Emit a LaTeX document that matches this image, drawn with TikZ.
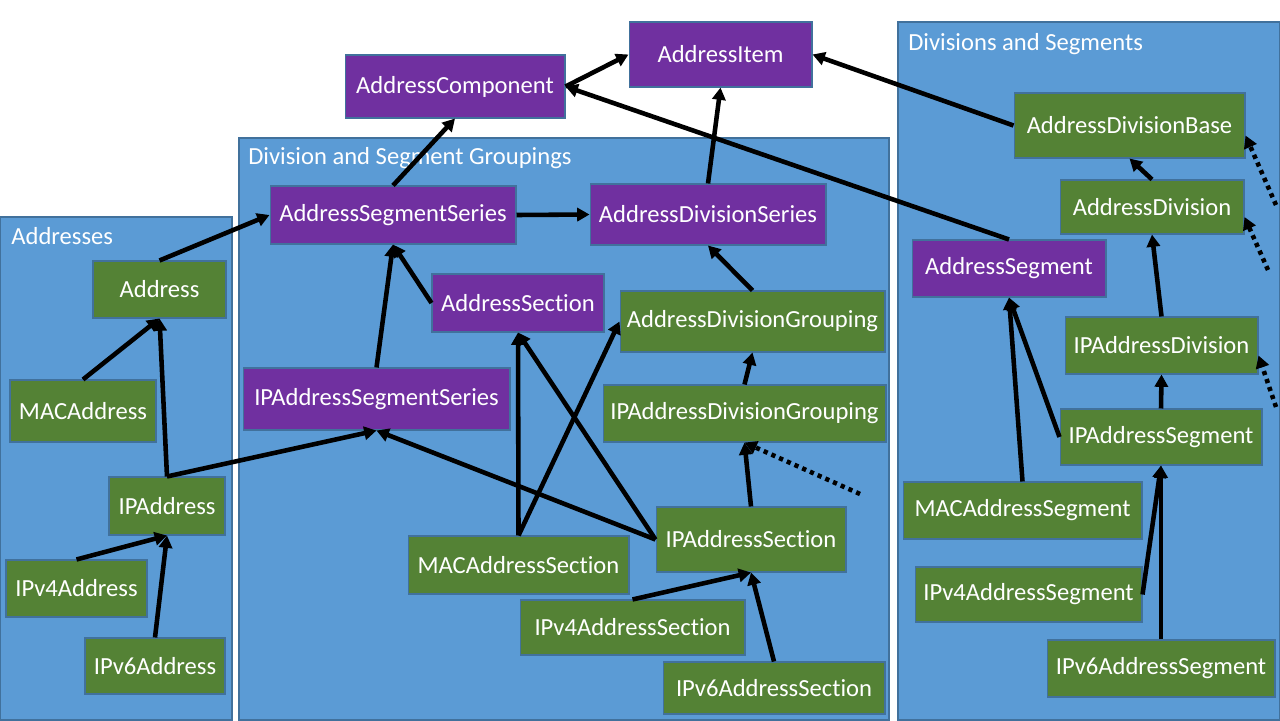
\documentclass[tikz,border=0pt]{standalone}
\usepackage{fontspec}
\setmainfont{Carlito}[Ligatures=CommonOff]
\usetikzlibrary{arrows.meta}

\definecolor{grpblue}{HTML}{5B9BD5}
\definecolor{edgeblue}{HTML}{41719C}
\definecolor{clsgreen}{HTML}{548235}
\definecolor{clspurple}{HTML}{7030A0}

\tikzset{
	grp/.style={fill=grpblue, draw=edgeblue, line width=0.6pt},
	grptitle/.style={text=white, anchor=base west, inner sep=0pt, font=\fontsize{14}{16}\selectfont},
	cls/.style={draw=edgeblue, line width=0.6pt, text=white, inner sep=0pt, font=\fontsize{14}{16}\selectfont},
	iface/.style={cls, fill=clspurple},
	impl/.style={cls, fill=clsgreen},
	inh/.style={line width=2.6pt, -{Triangle[length=7pt,width=7.5pt]}},
	ext/.style={inh, dash pattern=on 2.4pt off 2.4pt},
}

\begin{document}
\begin{tikzpicture}[x=0.02cm, y=-0.02cm]
		\useasboundingbox (0,0) rectangle (1280,720);
		%% The three groups
		\draw[grp] (0,217) rectangle (232,720);     % addresses
		\draw[grp] (239,138) rectangle (889,720);   % groupings
		\draw[grp] (898,22) rectangle (1280,720);   % divisions
		\node[grptitle] (t_addr) at (11,244) {Addresses};
		\node[grptitle] (t_grp) at (248,164) {Division and Segment Groupings};
		\node[grptitle] (t_div) at (908,50) {Divisions and Segments};
		%% Top level
		\node[iface, minimum width=3.66cm, minimum height=1.30cm] (item) at (720.5,54.5) {AddressItem};
		\node[iface, minimum width=4.40cm, minimum height=1.26cm] (comp) at (455,86.5) {AddressComponent};
		%% Addresses
		\node[impl, minimum width=2.66cm, minimum height=1.14cm] (addr) at (159.5,289.5) {Address};
		\node[impl, minimum width=2.92cm, minimum height=1.24cm] (macaddr) at (83,411) {MACAddress};
		\node[impl, minimum width=2.32cm, minimum height=1.16cm] (ipaddr) at (167,506) {IPAddress};
		\node[impl, minimum width=2.82cm, minimum height=1.14cm] (ipfouraddr) at (76.5,588.5) {IPv4Address};
		\node[impl, minimum width=2.80cm, minimum height=1.12cm] (ipsixaddr) at (155,666) {IPv6Address};
		%% Groupings
		\node[iface, minimum width=4.92cm, minimum height=1.16cm] (segser) at (393,215) {AddressSegmentSeries};
		\node[iface, minimum width=4.72cm, minimum height=1.22cm] (divser) at (708,214.5) {AddressDivisionSeries};
		\node[iface, minimum width=3.44cm, minimum height=1.16cm] (sect) at (518,303) {AddressSection};
		\node[impl, minimum width=5.30cm, minimum height=1.22cm] (divgrp) at (752.5,321.5) {AddressDivisionGrouping};
		\node[iface, minimum width=5.34cm, minimum height=1.24cm] (ipsegser) at (376.5,399) {IPAddressSegmentSeries};
		\node[impl, minimum width=5.66cm, minimum height=1.14cm] (ipdivgrp) at (744.5,413.5) {IPAddressDivisionGrouping};
		\node[impl, minimum width=3.80cm, minimum height=1.30cm] (ipsect) at (751,539.5) {IPAddressSection};
		\node[impl, minimum width=4.42cm, minimum height=1.16cm] (macsect) at (518.5,565) {MACAddressSection};
		\node[impl, minimum width=4.50cm, minimum height=1.10cm] (ipfoursect) at (632.5,627.5) {IPv4AddressSection};
		\node[impl, minimum width=4.44cm, minimum height=1.04cm] (ipsixsect) at (774,688) {IPv6AddressSection};
		%% Divisions and segments
		\node[impl, minimum width=4.62cm, minimum height=1.30cm] (divbase) at (1129.5,125.5) {AddressDivisionBase};
		\node[impl, minimum width=3.68cm, minimum height=1.08cm] (div) at (1152,207) {AddressDivision};
		\node[iface, minimum width=3.88cm, minimum height=1.14cm] (seg) at (1009,268.5) {AddressSegment};
		\node[impl, minimum width=3.86cm, minimum height=1.14cm] (ipdiv) at (1161.5,345.5) {IPAddressDivision};
		\node[impl, minimum width=4.04cm, minimum height=1.12cm] (ipseg) at (1161,437) {IPAddressSegment};
		\node[impl, minimum width=4.78cm, minimum height=1.14cm] (macseg) at (1022.5,510.5) {MACAddressSegment};
		\node[impl, minimum width=4.54cm, minimum height=1.10cm] (ipfourseg) at (1028.5,594.5) {IPv4AddressSegment};
		\node[impl, minimum width=4.56cm, minimum height=1.14cm] (ipsixseg) at (1161,668.5) {IPv6AddressSegment};
		%% Free ends of the dotted arrows
		\path
			(860,494)  coordinate (more_grp)
			(1276,205) coordinate (more_base)
			(1268,270) coordinate (more_div)
			(1276,407) coordinate (more_ipdiv);
		%% Inheritance
		\draw[inh] (comp.east) -- (item.west);
		\draw[inh] (divser.north) -- (item.south);
		\draw[inh] (divbase.west) -- (item.east);
		\draw[inh] (seg.north) -- (comp.east);
		\draw[inh] (segser.north) -- (comp.south);
		\draw[inh] (addr.north) -- (segser.west);
		\draw[inh] (segser.east) -- (divser.west);
		\draw[inh] (sect.west) -- (segser.south);
		\draw[inh] (ipsegser.north) -- (segser.south);
		\draw[inh] (divgrp.north) -- (divser.south);
		\draw[inh] (ipdivgrp.north) -- (divgrp.south);
		\draw[inh] (macaddr.north) -- (addr.south);
		\draw[inh] (ipaddr.north) -- (addr.south);
		\draw[inh] (ipaddr.north) -- (ipsegser.south);
		\draw[inh] (ipfouraddr.north) -- (ipaddr.south);
		\draw[inh] (ipsixaddr.north) -- (ipaddr.south);
		\draw[inh] (macsect.north) -- (sect.south);
		\draw[inh] (macsect.north) -- (divgrp.west);
		\draw[inh] (ipsect.west) -- (sect.south);
		\draw[inh] (ipsect.west) -- (ipsegser.south);
		\draw[inh] (ipsect.north) -- (ipdivgrp.south);
		\draw[inh] (ipfoursect.north) -- (ipsect.south);
		\draw[inh] (ipsixsect.north) -- (ipsect.south);
		\draw[inh] (div.north) -- (divbase.south);
		\draw[inh] (ipdiv.north) -- (div.south);
		\draw[inh] (ipseg.north) -- (ipdiv.south);
		\draw[inh] (ipseg.west) -- (seg.south);
		\draw[inh] (macseg.north) -- (seg.south);
		\draw[inh] (ipfourseg.east) -- (ipseg.south);
		\draw[inh] (ipsixseg.north) -- (ipseg.south);
		%% Dotted ones
		\draw[ext] (more_grp) -- (ipdivgrp.south);
		\draw[ext] (more_base) -- ([yshift=-0.2cm]divbase.east);
		\draw[ext] (more_div) -- ([yshift=-0.2cm]div.east);
		\draw[ext] (more_ipdiv) -- ([yshift=-0.2cm]ipdiv.east);
\end{tikzpicture}
\end{document}
